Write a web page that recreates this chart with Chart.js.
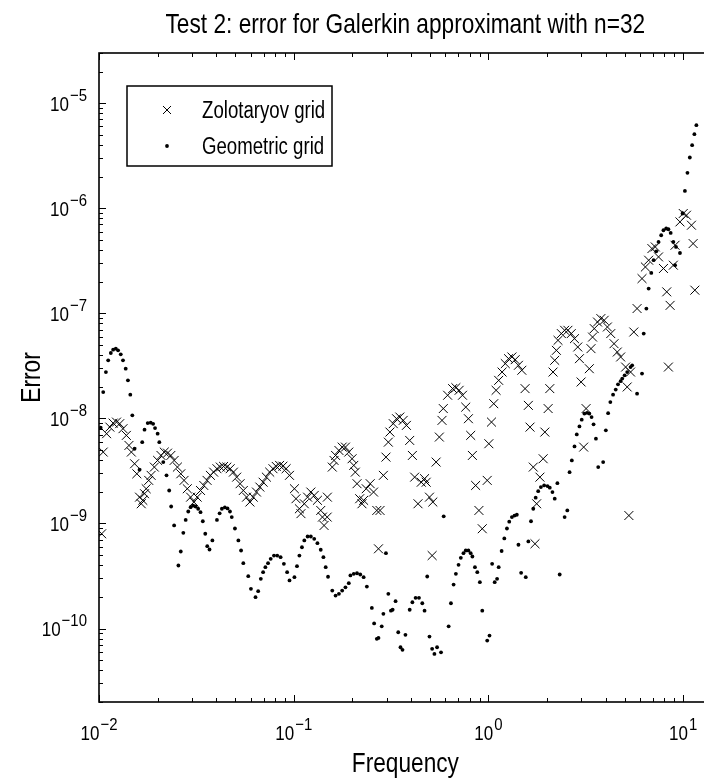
<!DOCTYPE html>
<html>
<head>
<meta charset="utf-8">
<script src="https://cdn.jsdelivr.net/npm/chart.js@4"></script>
<style>
  html, body { margin: 0; padding: 0; overflow: hidden; background: #fff; }
  canvas { display: block; }
</style>
</head>
<body>
<!-- the axes run a little past the right edge of the window, as in the cropped figure -->
<canvas id="errChart" width="719" height="781"></canvas>
<script>
const titleText = 'Test 2: error for Galerkin approximant with n=32';
const xLabel = 'Frequency';
const yLabel = 'Error';
const seriesNames = ['Zolotaryov grid', 'Geometric grid'];

const xRange = [0.01, 14];
const yRange = [2e-11, 3e-5];
const xMajor = [0.01, 0.1, 1, 10];
const xMajorExp = ['\u22122', '\u22121', '0', '1'];
const yMajor = [1e-10, 1e-9, 1e-8, 1e-7, 1e-6, 1e-5];
const yMajorExp = ['\u221210', '\u22129', '\u22128', '\u22127', '\u22126', '\u22125'];

// Zolotaryov grid (x markers)
const zolFreq = [
  0.01032, 0.01051, 0.01094, 0.01137, 0.01182, 0.0123, 0.01278, 0.01328, 0.01382, 0.01425,
  0.01466, 0.01523, 0.01564, 0.01615, 0.01648, 0.01679, 0.01713, 0.01747, 0.0180, 0.01852,
  0.01924, 0.0200, 0.02081, 0.02163, 0.02248, 0.02339, 0.02431, 0.02527, 0.0263, 0.02733,
  0.0284, 0.02954, 0.03071, 0.03192, 0.03321, 0.03452, 0.03588, 0.03733, 0.03879, 0.04033,
  0.04197, 0.04362, 0.04533, 0.04716, 0.0490, 0.05094, 0.05302, 0.05509, 0.05726, 0.05957,
  0.06194, 0.06437, 0.06698, 0.06961, 0.07235, 0.07527, 0.07822, 0.0813, 0.0846, 0.08796,
  0.0914, 0.0951, 0.1008, 0.1027, 0.1069, 0.1089, 0.1133, 0.1178, 0.1224, 0.1274,
  0.1323, 0.1376, 0.1404, 0.1431, 0.1488, 0.1485, 0.1577, 0.161, 0.164, 0.1706,
  0.1773, 0.1843, 0.1917, 0.1993, 0.2033, 0.2071, 0.2113, 0.2181, 0.224, 0.2285,
  0.2356, 0.2469, 0.2569, 0.267, 0.2774, 0.2723, 0.2886, 0.2975, 0.306, 0.3118,
  0.3243, 0.3372, 0.3505, 0.3647, 0.379, 0.3939, 0.4066, 0.4177, 0.4346, 0.4517,
  0.4695, 0.4788, 0.4977, 0.5178, 0.5136, 0.5383, 0.5593, 0.5772, 0.5861, 0.617,
  0.6543, 0.680, 0.7067, 0.7355, 0.7642, 0.7887, 0.8103, 0.8266, 0.859, 0.893,
  0.929, 0.985, 1.004, 1.036, 1.064, 1.094, 1.128, 1.174, 1.22, 1.268,
  1.319, 1.371, 1.425, 1.483, 1.541, 1.602, 1.634, 1.698, 1.733, 1.767,
  1.837, 1.909, 1.947, 2.024, 2.064, 2.145, 2.188, 2.232, 2.275, 2.367,
  2.46, 2.557, 2.66, 2.764, 2.873, 2.931, 2.989, 3.081, 3.17, 3.294,
  3.36, 3.423, 3.492, 3.629, 3.776, 3.926, 4.079, 4.244, 4.412, 4.585,
  4.771, 5.06, 5.155, 5.258, 5.364, 5.574, 5.793, 6.142, 6.392, 6.643,
  6.905, 7.184, 7.467, 7.915, 8.226, 8.392, 8.561, 8.897, 9.076, 9.62,
  10.0, 10.39, 11.02, 11.24, 11.47
];
const zolErr = [
  7.98e-10, 4.78e-9, 7.15e-9, 8.26e-9, 9.02e-9, 9.22e-9, 8.91e-9, 7.98e-9, 6.89e-9, 5.53e-9,
  4.78e-9, 3.70e-9, 2.97e-9, 1.78e-9, 1.54e-9, 1.66e-9, 1.92e-9, 2.14e-9, 2.57e-9, 2.87e-9,
  3.44e-9, 3.98e-9, 4.44e-9, 4.78e-9, 4.67e-9, 4.44e-9, 3.98e-9, 3.44e-9, 2.97e-9, 2.57e-9,
  2.14e-9, 1.78e-9, 1.60e-9, 1.78e-9, 2.06e-9, 2.30e-9, 2.57e-9, 2.87e-9, 3.08e-9, 3.32e-9,
  3.44e-9, 3.49e-9, 3.44e-9, 3.32e-9, 3.08e-9, 2.76e-9, 2.39e-9, 2.06e-9, 1.78e-9, 1.60e-9,
  1.78e-9, 1.99e-9, 2.22e-9, 2.47e-9, 2.76e-9, 3.08e-9, 3.32e-9, 3.49e-9, 3.57e-9, 3.51e-9,
  3.32e-9, 2.87e-9, 2.14e-9, 1.72e-9, 1.38e-9, 1.24e-9, 1.54e-9, 1.78e-9, 1.99e-9, 1.85e-9,
  1.66e-9, 1.33e-9, 1.15e-9, 9.57e-10, 1.78e-9, 1.15e-9, 3.44e-9, 3.98e-9, 4.44e-9, 4.95e-9,
  5.33e-9, 5.33e-9, 4.78e-9, 4.13e-9, 3.57e-9, 3.08e-9, 2.39e-9, 1.72e-9, 1.54e-9, 1.66e-9,
  2.14e-9, 2.39e-9, 1.99e-9, 1.33e-9, 1.33e-9, 5.74e-10, 2.87e-9, 4.28e-9, 5.94e-9, 7.41e-9,
  8.91e-9, 9.93e-9, 1.03e-8, 9.57e-9, 8.58e-9, 6.17e-9, 4.44e-9, 2.76e-9, 1.54e-9, 2.47e-9,
  2.67e-9, 2.47e-9, 1.78e-9, 1.60e-9, 4.95e-10, 3.84e-9, 6.64e-9, 9.57e-9, 1.24e-8, 1.66e-8,
  1.92e-8, 1.96e-8, 1.85e-8, 1.66e-8, 1.28e-8, 9.93e-9, 6.89e-9, 4.44e-9, 2.30e-9, 1.33e-9,
  8.91e-10, 2.57e-9, 5.74e-9, 9.22e-9, 1.38e-8, 1.85e-8, 2.30e-8, 2.76e-8, 3.32e-8, 3.70e-8,
  3.84e-8, 3.62e-8, 3.20e-8, 2.87e-8, 1.92e-8, 1.33e-8, 8.26e-9, 3.44e-9, 6.41e-10, 1.54e-9,
  2.76e-9, 4.13e-9, 7.41e-9, 1.24e-8, 1.92e-8, 2.76e-8, 3.57e-8, 4.44e-8, 5.53e-8, 6.41e-8,
  6.89e-8, 6.89e-8, 6.41e-8, 5.74e-8, 4.78e-8, 3.70e-8, 2.22e-8, 5.33e-9, 1.24e-8, 2.97e-8,
  4.61e-8, 5.94e-8, 7.15e-8, 8.26e-8, 8.91e-8, 8.58e-8, 7.41e-8, 6.41e-8, 5.14e-8, 4.28e-8,
  3.84e-8, 3.08e-8, 1.99e-8, 1.19e-9, 2.76e-8, 6.64e-8, 1.11e-7, 2.14e-7, 2.76e-7, 3.20e-7,
  4.13e-7, 4.28e-7, 3.44e-7, 2.67e-7, 1.60e-7, 3.08e-8, 1.19e-7, 2.87e-7, 4.44e-7, 7.41e-7,
  8.91e-7, 8.58e-7, 6.89e-7, 4.61e-7, 1.66e-7
];

// Geometric grid (dots)
const geoFreq = [
  0.0102, 0.01051, 0.01085, 0.01115, 0.0115, 0.01182, 0.0122, 0.01253, 0.01293, 0.01328,
  0.01371, 0.01408, 0.01448, 0.01483, 0.01523, 0.01615, 0.01667, 0.01713, 0.01779, 0.01843,
  0.01896, 0.0194, 0.0200, 0.0204, 0.02138, 0.02222, 0.02293, 0.02347, 0.02431, 0.02557,
  0.0263, 0.0271, 0.02787, 0.02873, 0.02954, 0.03045, 0.03133, 0.03229, 0.03321, 0.03412,
  0.03513, 0.03596, 0.03694, 0.03822, 0.04033, 0.04163, 0.04276, 0.04428, 0.04571, 0.04705,
  0.04805, 0.04989, 0.05196, 0.05364, 0.05509, 0.05841, 0.06028, 0.06364, 0.06567, 0.06776,
  0.06961, 0.07151, 0.07379, 0.07616, 0.07915, 0.08226, 0.08561, 0.08897, 0.09248, 0.0951,
  0.1008, 0.1039, 0.1069, 0.1102, 0.1133, 0.1178, 0.1224, 0.1274, 0.1323, 0.1376,
  0.142, 0.1459, 0.150, 0.1577, 0.164, 0.1706, 0.1773, 0.1843, 0.1917, 0.1954,
  0.2033, 0.2113, 0.2196, 0.2285, 0.2374, 0.2518, 0.2587, 0.267, 0.2723, 0.283,
  0.2886, 0.2975, 0.306, 0.3155, 0.3219, 0.3333, 0.344, 0.3533, 0.3617, 0.3746,
  0.3939, 0.4066, 0.4224, 0.4396, 0.4571, 0.4695, 0.4846, 0.4977, 0.5136, 0.5276,
  0.5445, 0.5705, 0.5888, 0.6243, 0.6415, 0.6619, 0.680, 0.7018, 0.721, 0.7439,
  0.7642, 0.7887, 0.8103, 0.8266, 0.852, 0.876, 0.903, 0.929, 0.985, 1.012,
  1.044, 1.076, 1.107, 1.128, 1.168, 1.206, 1.244, 1.278, 1.319, 1.36,
  1.398, 1.425, 1.471, 1.554, 1.602, 1.653, 1.698, 1.747, 1.80, 1.858,
  1.931, 2.009, 2.064, 2.13, 2.188, 2.258, 2.32, 2.46, 2.539, 2.608,
  2.679, 2.764, 2.84, 2.931, 3.011, 3.107, 3.207, 3.294, 3.383, 3.463,
  3.562, 3.659, 3.879, 4.005, 4.114, 4.224, 4.362, 4.501, 4.624, 4.771,
  4.862, 5.0, 5.155, 5.364, 5.467, 5.793, 6.142, 6.266, 6.467, 6.643,
  6.855, 7.043, 7.268, 7.467, 7.705, 7.915, 8.172, 8.392, 8.62, 8.897,
  9.18, 9.62, 9.076, 9.92, 10.2, 10.51, 10.81, 11.11, 11.41, 11.68
];
const geoErr = [
  8.15e-9, 1.78e-8, 2.76e-8, 3.57e-8, 4.19e-8, 4.51e-8, 4.61e-8, 4.44e-8, 4.07e-8, 3.57e-8,
  2.97e-8, 2.30e-8, 1.68e-8, 1.07e-8, 5.14e-9, 3.25e-9, 5.94e-9, 7.80e-9, 9.02e-9, 9.10e-9,
  8.87e-9, 8.09e-9, 7.15e-9, 5.94e-9, 3.84e-9, 2.87e-9, 2.06e-9, 1.45e-9, 9.57e-10, 3.98e-10,
  5.41e-10, 8.15e-10, 1.08e-9, 1.30e-9, 1.43e-9, 1.48e-9, 1.45e-9, 1.38e-9, 1.28e-9, 1.05e-9,
  7.98e-10, 6.08e-10, 5.65e-10, 6.89e-10, 1.08e-9, 1.25e-9, 1.38e-9, 1.42e-9, 1.39e-9, 1.30e-9,
  1.15e-9, 8.96e-10, 6.89e-10, 5.53e-10, 4.19e-10, 3.15e-10, 2.39e-10, 1.99e-10, 2.27e-10, 2.97e-10,
  3.44e-10, 3.84e-10, 4.19e-10, 4.61e-10, 4.95e-10, 4.95e-10, 4.78e-10, 4.13e-10, 3.44e-10, 2.87e-10,
  3.08e-10, 3.92e-10, 4.95e-10, 5.94e-10, 6.89e-10, 7.52e-10, 7.52e-10, 7.15e-10, 6.49e-10, 5.62e-10,
  4.78e-10, 3.84e-10, 3.11e-10, 2.30e-10, 2.06e-10, 2.14e-10, 2.30e-10, 2.47e-10, 2.70e-10, 3.20e-10,
  3.32e-10, 3.36e-10, 3.27e-10, 3.08e-10, 2.51e-10, 1.57e-10, 1.12e-10, 7.98e-11, 8.15e-11, 1.05e-10,
  1.38e-10, 5.21e-10, 2.14e-10, 1.48e-10, 1.51e-10, 1.82e-10, 9.22e-11, 6.64e-11, 6.27e-11, 8.71e-11,
  1.51e-10, 1.78e-10, 1.96e-10, 1.96e-10, 1.74e-10, 1.48e-10, 3.13e-10, 8.39e-11, 6.41e-11, 5.74e-11,
  6.64e-11, 5.94e-11, 1.17e-9, 1.05e-10, 1.74e-10, 2.62e-10, 3.32e-10, 4.04e-10, 4.71e-10, 5.21e-10,
  5.53e-10, 5.53e-10, 5.21e-10, 4.85e-10, 3.84e-10, 3.44e-10, 2.76e-10, 1.48e-10, 7.69e-11, 8.58e-11,
  4.13e-10, 2.76e-10, 2.97e-10, 3.84e-10, 5.47e-10, 7.20e-10, 8.96e-10, 1.04e-9, 1.15e-9, 1.19e-9,
  1.21e-9, 6.27e-10, 3.39e-10, 3.08e-10, 6.74e-10, 1.05e-9, 1.38e-9, 1.76e-9, 2.03e-9, 2.22e-9,
  2.30e-9, 2.27e-9, 2.19e-9, 1.99e-9, 1.72e-9, 2.42e-9, 3.27e-10, 1.15e-9, 1.33e-9, 3.08e-9,
  3.98e-9, 5.41e-9, 7.04e-9, 8.39e-9, 9.72e-9, 1.11e-8, 1.13e-8, 1.11e-8, 1.03e-8, 8.77e-9,
  6.41e-9, 3.44e-9, 3.84e-9, 7.69e-9, 1.12e-8, 1.43e-8, 1.68e-8, 1.88e-8, 2.11e-8, 2.26e-8,
  2.39e-8, 2.57e-8, 2.76e-8, 3.08e-8, 3.20e-8, 1.72e-8, 2.67e-8, 6.41e-8, 1.11e-7, 1.72e-7,
  2.42e-7, 3.20e-7, 3.89e-7, 4.78e-7, 5.53e-7, 6.17e-7, 6.41e-7, 6.31e-7, 5.82e-7, 4.78e-7,
  4.28e-7, 3.75e-7, 2.87e-7, 8.91e-7, 1.46e-6, 2.17e-6, 3.04e-6, 3.98e-6, 5.07e-6, 6.17e-6
];

// no narrow face is installed, so text is squeezed sideways to get the tall matlab look
const FONT = '"Liberation Sans", Arial, sans-serif';
const SQUEEZE = 0.81;

function isDecade(v) {
  const e = Math.log10(v);
  return Math.abs(e - Math.round(e)) < 1e-6;
}

// keep only 1..9 x 10^n, like a matlab log axis
function keepIntegerTicks(scale) {
  scale.ticks = scale.ticks.filter(t => {
    const m = t.value / Math.pow(10, Math.floor(Math.log10(t.value) + 1e-9));
    return Math.abs(m - Math.round(m)) < 1e-6;
  });
}

function squeezedText(ctx, text, x, y, size, align, sx) {
  ctx.save();
  ctx.translate(x, y);
  ctx.scale(sx || SQUEEZE, 1);
  ctx.font = size + 'px ' + FONT;
  ctx.textAlign = align;
  ctx.textBaseline = 'alphabetic';
  ctx.fillText(text, 0, 0);
  ctx.restore();
}

// "10" with a raised exponent; x is the centre or the right end, y the baseline of "10"
function powerLabel(ctx, exp, x, y, align) {
  ctx.font = '21px ' + FONT;
  const wb = ctx.measureText('10').width * SQUEEZE;
  ctx.font = '17px ' + FONT;
  const we = ctx.measureText(exp).width * 0.88;
  const x0 = align === 'right' ? x - wb - we - 1 : x - (wb + we + 1) / 2;
  squeezedText(ctx, '10', x0, y, 21, 'left');
  squeezedText(ctx, exp, x0 + wb + 1, y - 10, 17, 'left', 0.88);
}

// box round the axes with inward ticks
const axesFrame = {
  id: 'axesFrame',
  afterDraw(chart) {
    const {ctx, chartArea: a} = chart;
    const xs = chart.scales.x, ys = chart.scales.y;
    ctx.save();
    ctx.strokeStyle = '#000';
    ctx.lineWidth = 1;
    ctx.beginPath();
    xs.ticks.forEach(t => {
      const px = Math.round(xs.getPixelForValue(t.value)) + 0.5;
      const len = isDecade(t.value) ? 7 : 4;
      ctx.moveTo(px, a.bottom); ctx.lineTo(px, a.bottom - len);
      ctx.moveTo(px, a.top); ctx.lineTo(px, a.top + len);
    });
    ys.ticks.forEach(t => {
      const py = Math.round(ys.getPixelForValue(t.value)) + 0.5;
      const len = isDecade(t.value) ? 7 : 4;
      ctx.moveTo(a.left, py); ctx.lineTo(a.left + len, py);
      ctx.moveTo(a.right, py); ctx.lineTo(a.right - len, py);
    });
    ctx.stroke();
    ctx.lineWidth = 1.6;
    ctx.strokeRect(a.left, a.top, a.right - a.left, a.bottom - a.top);
    ctx.restore();
  }
};

// title, axis labels and decade tick labels
const textLayer = {
  id: 'textLayer',
  afterDraw(chart) {
    const {ctx, chartArea: a} = chart;
    const xs = chart.scales.x, ys = chart.scales.y;
    const cx = (a.left + a.right) / 2;
    ctx.save();
    ctx.fillStyle = '#000';
    squeezedText(ctx, titleText, cx, 33, 28, 'center');
    squeezedText(ctx, xLabel, cx, 772, 28, 'center');
    ctx.save();
    ctx.translate(a.left - 59, (a.top + a.bottom) / 2);
    ctx.rotate(-Math.PI / 2);
    squeezedText(ctx, yLabel, 0, 0, 28, 'center');
    ctx.restore();
    xMajor.forEach((v, i) => {
      powerLabel(ctx, xMajorExp[i], xs.getPixelForValue(v), a.bottom + 38, 'center');
    });
    yMajor.forEach((v, i) => {
      powerLabel(ctx, yMajorExp[i], a.left - 12, ys.getPixelForValue(v) + 7.5, 'right');
    });
    ctx.restore();
  }
};

// matlab style legend box in the upper left of the axes
const legendBox = {
  id: 'legendBox',
  afterDraw(chart) {
    const {ctx, chartArea: a} = chart;
    const bx = a.left + 28, by = a.top + 33, bw = 205, bh = 80;
    ctx.save();
    ctx.fillStyle = '#fff';
    ctx.fillRect(bx, by, bw, bh);
    ctx.strokeStyle = '#000';
    ctx.lineWidth = 1.5;
    ctx.strokeRect(bx, by, bw, bh);

    const rows = [by + 24, by + 60];
    const mx = bx + 40;
    ctx.lineWidth = 1;
    ctx.beginPath();
    ctx.moveTo(mx - 4, rows[0] - 4); ctx.lineTo(mx + 4, rows[0] + 4);
    ctx.moveTo(mx + 4, rows[0] - 4); ctx.lineTo(mx - 4, rows[0] + 4);
    ctx.stroke();
    ctx.fillStyle = '#000';
    ctx.beginPath();
    ctx.arc(mx, rows[1], 1.9, 0, Math.PI * 2);
    ctx.fill();

    chart.data.datasets.forEach((ds, i) => {
      squeezedText(ctx, ds.label, bx + 75, rows[i] + 8, 23, 'left');
    });
    ctx.restore();
  }
};

const ctx = document.getElementById('errChart').getContext('2d');

new Chart(ctx, {
  type: 'scatter',
  data: {
    datasets: [
      {
        label: seriesNames[0],
        data: zolFreq.map((f, i) => ({x: f, y: zolErr[i]})),
        pointStyle: 'crossRot',
        pointRadius: 6.3,
        pointHoverRadius: 6.3,
        borderColor: '#000',
        backgroundColor: 'rgba(0,0,0,0)',
        borderWidth: 1
      },
      {
        label: seriesNames[1],
        data: geoFreq.map((f, i) => ({x: f, y: geoErr[i]})),
        pointStyle: 'circle',
        pointRadius: 1.9,
        pointHoverRadius: 1.9,
        borderWidth: 0,
        backgroundColor: '#000'
      }
    ]
  },
  options: {
    responsive: false,
    animation: false,
    events: [],
    layout: { padding: { top: 53, right: 0, bottom: 0, left: 0 } },
    plugins: {
      legend: { display: false },
      tooltip: { enabled: false },
      title: { display: false, text: titleText }
    },
    scales: {
      x: {
        type: 'logarithmic',
        min: xRange[0],
        max: xRange[1],
        grid: { display: false },
        border: { display: false },
        afterBuildTicks: keepIntegerTicks,
        afterFit: s => { s.height = 79; },
        ticks: { display: false, autoSkip: false, maxRotation: 0 },
        title: { display: false, text: xLabel }
      },
      y: {
        type: 'logarithmic',
        min: yRange[0],
        max: yRange[1],
        grid: { display: false },
        border: { display: false },
        afterBuildTicks: keepIntegerTicks,
        afterFit: s => { s.width = 99; },
        ticks: { display: false, autoSkip: false },
        title: { display: false, text: yLabel }
      }
    }
  },
  plugins: [axesFrame, textLayer, legendBox]
});
</script>
</body>
</html>
